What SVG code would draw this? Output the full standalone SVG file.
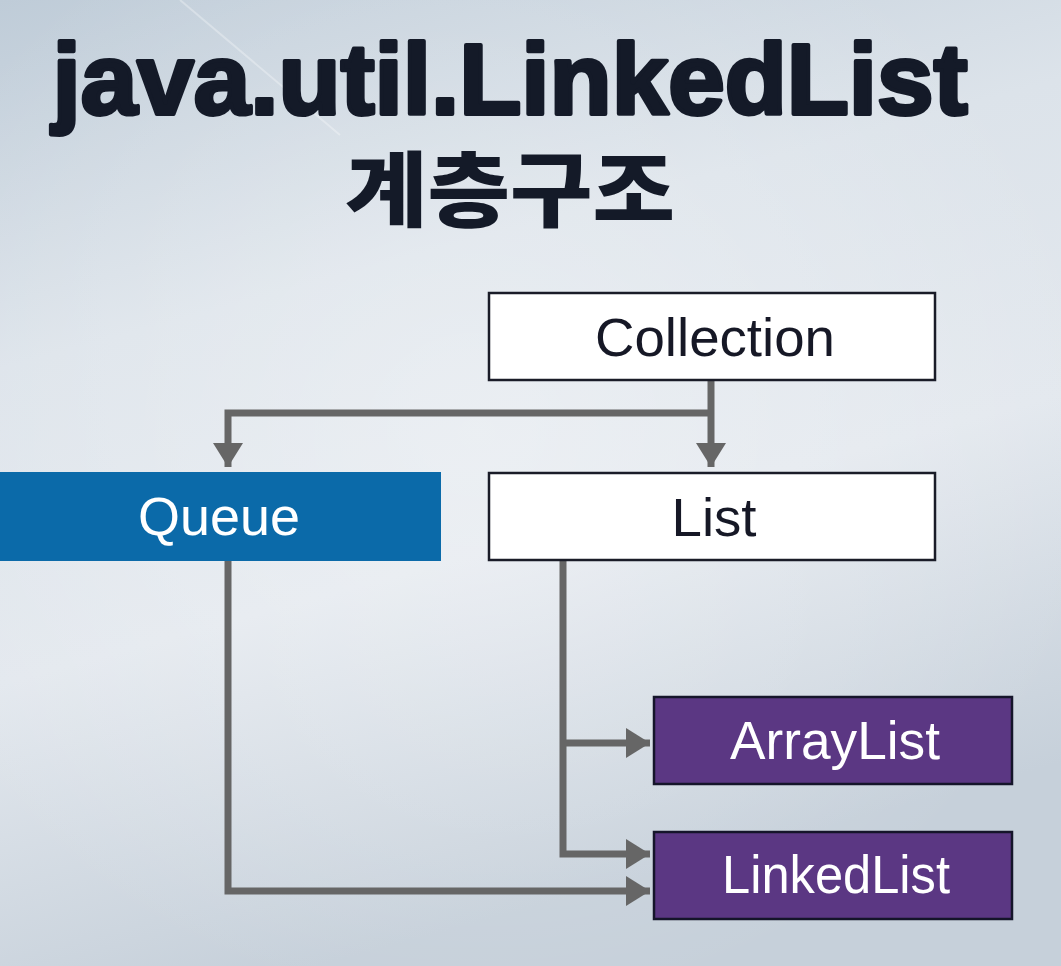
<svg xmlns="http://www.w3.org/2000/svg" width="1061" height="966" viewBox="0 0 1061 966">
  <defs>
    <linearGradient id="bg" x1="0" y1="0" x2="0.3" y2="1">
      <stop offset="0" stop-color="#bfccd8"/>
      <stop offset="0.35" stop-color="#dce3ea"/>
      <stop offset="0.65" stop-color="#e3e8ee"/>
      <stop offset="1" stop-color="#c6d0da"/>
    </linearGradient>
    <radialGradient id="glow" cx="0.45" cy="0.45" r="0.6">
      <stop offset="0" stop-color="#ffffff" stop-opacity="0.35"/>
      <stop offset="1" stop-color="#ffffff" stop-opacity="0"/>
    </radialGradient>
    <marker id="arr" viewBox="0 0 24 30" refX="24" refY="15" markerWidth="24" markerHeight="30" markerUnits="userSpaceOnUse" orient="auto">
      <path d="M0,0 L24,15 L0,30 Z" fill="#666666"/>
    </marker>
    <style>
      .title { font-family: "Liberation Sans", Arial, sans-serif; font-weight: 900; fill: #141a28; stroke: #141a28; stroke-width: 4; stroke-linejoin: round; }
      .ko { font-family: "Liberation Sans", "Noto Sans CJK KR", sans-serif; font-weight: 900; fill: #141a28; }
      .box-white { fill: #ffffff; stroke: #1a1c28; stroke-width: 2.5; }
      .box-blue { fill: #0b6aa9; }
      .box-purple { fill: #5b3783; stroke: #15152a; stroke-width: 2.5; }
      .lbl { font-family: "Liberation Sans", Arial, sans-serif; font-size: 53px; text-anchor: middle; }
      .dark { fill: #161826; }
      .light { fill: #ffffff; }
      .conn { fill: none; stroke: #666666; stroke-width: 7; stroke-linejoin: miter; }
    </style>
  </defs>

  <rect x="0" y="0" width="1061" height="966" fill="url(#bg)"/>
  <rect x="0" y="0" width="1061" height="966" fill="url(#glow)"/>
  <path d="M180,0 L340,135" stroke="#ffffff" stroke-opacity="0.3" stroke-width="2" fill="none"/>

  <g id="title">
    <text class="title" x="510" y="114" font-size="100" text-anchor="middle" textLength="915" lengthAdjust="spacingAndGlyphs">java.util.LinkedList</text>
    <text class="ko" x="510" y="220" font-size="82" text-anchor="middle" textLength="330" lengthAdjust="spacingAndGlyphs">계층구조</text>
  </g>

  <g id="connectors">
    <path class="conn" d="M711,381 V467" marker-end="url(#arr)"/>
    <path class="conn" d="M711,413 H228 V467" marker-end="url(#arr)"/>
    <path class="conn" d="M563,561 V854 H650" marker-end="url(#arr)"/>
    <path class="conn" d="M563,743 H650" marker-end="url(#arr)"/>
    <path class="conn" d="M228,561 V891 H650" marker-end="url(#arr)"/>
  </g>

  <g id="node-collection">
    <rect class="box-white" x="489" y="293" width="446" height="87"/>
    <text class="lbl dark" x="715" y="356" textLength="240" lengthAdjust="spacingAndGlyphs">Collection</text>
  </g>

  <g id="node-queue">
    <rect class="box-blue" x="0" y="472" width="441" height="89"/>
    <text class="lbl light" x="219" y="535" textLength="162" lengthAdjust="spacingAndGlyphs">Queue</text>
  </g>

  <g id="node-list">
    <rect class="box-white" x="489" y="473" width="446" height="87"/>
    <text class="lbl dark" x="714" y="536" textLength="85" lengthAdjust="spacingAndGlyphs">List</text>
  </g>

  <g id="node-arraylist">
    <rect class="box-purple" x="654" y="697" width="358" height="87"/>
    <text class="lbl light" x="835" y="759" textLength="210" lengthAdjust="spacingAndGlyphs">ArrayList</text>
  </g>

  <g id="node-linkedlist">
    <rect class="box-purple" x="654" y="832" width="358" height="87"/>
    <text class="lbl light" x="836" y="893" textLength="228" lengthAdjust="spacingAndGlyphs">LinkedList</text>
  </g>
</svg>
